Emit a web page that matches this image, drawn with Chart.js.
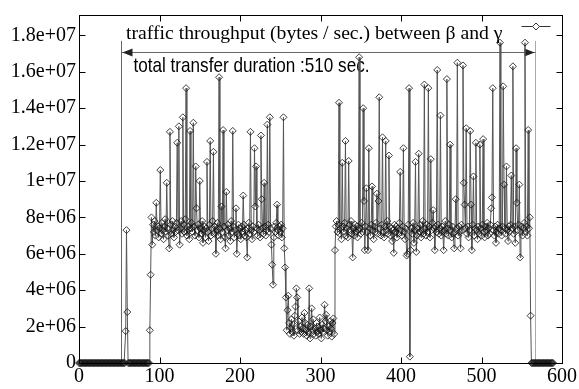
<!DOCTYPE html>
<html>
<head>
<meta charset="utf-8">
<script src="https://cdn.jsdelivr.net/npm/chart.js@4"></script>
<style>
  html, body { margin: 0; padding: 0; background: #fff; }
</style>
</head>
<body>
<canvas id="trafficChart" width="579" height="389"></canvas>
<script>
// throughput samples, one per second (bytes / sec.)
const idleStart = [
    0, 0, 0, 0, 0, 0, 0, 0, 0, 0, 0, 0, 0, 0, 0, 0, 0, 0, 0, 0,
    0, 0, 0, 0, 0, 0, 0, 0, 0, 0, 0, 0, 0, 0, 0, 0, 0, 0, 0, 0,
    0, 0, 0, 0, 0, 0, 0, 0, 0, 0, 0, 0, 0, 0, 0, 0, 0, 0
];
const firstBurst = [1.75e6, 7.3e6, 2.8e6];
const idleGap = [
    0, 0, 0, 0, 0, 0, 0, 0, 0, 0, 0, 0, 0, 0, 0, 0, 0, 0, 0, 0,
    0, 0, 0, 0, 0, 0, 0
];
const phaseOne = [
    1.8e6, 4.85e6, 8.0e6, 6.5e6, 7.6e6, 7.2e6, 7.8e6, 7.0e6, 8.8e6, 7.3e6,
    7.5e6, 6.9e6, 7.4e6, 10.6e6, 7.1e6, 7.7e6, 7.3e6, 6.8e6, 7.5e6, 7.9e6,
    7.2e6, 9.9e6, 7.4e6, 7.0e6, 6.3e6, 12.7e6, 7.6e6, 7.1e6, 7.8e6, 7.3e6,
    6.9e6, 7.5e6, 7.2e6, 7.7e6, 12.1e6, 7.3e6, 13.0e6, 6.5e6, 7.4e6, 7.8e6,
    7.1e6, 13.5e6, 7.6e6, 7.2e6, 7.9e6, 15.1e6, 7.0e6, 7.5e6, 7.3e6, 6.8e6,
    12.75e6, 7.4e6, 7.7e6, 7.2e6, 13.2e6, 7.5e6, 7.0e6, 10.8e6, 8.5e6, 7.3e6,
    7.6e6, 6.9e6, 10.0e6, 7.4e6, 7.1e6, 7.8e6, 6.6e6, 7.3e6, 7.5e6, 6.9e6,
    7.4e6, 11.05e6, 7.2e6, 6.7e6, 7.6e6, 12.2e6, 7.0e6, 7.4e6, 7.8e6, 11.6e6,
    7.1e6, 7.5e6, 6.0e6, 7.3e6, 7.7e6, 7.0e6, 15.7e6, 7.4e6, 6.8e6, 8.6e6,
    7.2e6, 12.8e6, 7.5e6, 6.9e6, 6.3e6, 9.4e6, 7.3e6, 7.6e6, 7.0e6, 7.4e6,
    6.7e6, 7.8e6, 7.2e6, 12.75e6, 7.5e6, 6.9e6, 7.3e6, 8.5e6, 6.0e6, 7.1e6,
    7.6e6, 7.0e6, 7.4e6, 6.8e6, 7.5e6, 7.2e6, 9.2e6, 7.6e6, 7.0e6, 7.3e6,
    6.9e6, 5.8e6, 7.4e6, 7.7e6, 7.1e6, 12.7e6, 7.3e6, 6.8e6, 7.5e6, 7.2e6,
    11.8e6, 8.6e6, 10.8e6, 7.4e6, 7.0e6, 7.6e6, 7.3e6, 6.9e6, 12.5e6, 9.0e6,
    7.4e6, 7.1e6, 9.9e6, 7.5e6, 7.0e6, 7.3e6, 13.1e6, 7.6e6, 7.2e6, 13.5e6,
    7.4e6, 6.5e6, 5.4e6, 4.3e6, 6.9e6, 7.5e6, 7.2e6, 7.7e6, 8.7e6, 7.3e6,
    7.0e6, 7.5e6, 7.2e6, 7.6e6, 6.9e6, 7.4e6, 13.5e6, 6.3e6, 5.25e6, 3.6e6
];
const phaseTwo = [
    1.8e6, 2.9e6, 3.7e6, 2.2e6, 1.6e6, 1.9e6, 2.4e6, 1.7e6, 2.1e6, 1.5e6,
    2.6e6, 3.1e6, 4.1e6, 3.6e6, 1.8e6, 2.3e6, 1.6e6, 2.0e6, 1.7e6, 2.5e6,
    1.9e6, 1.6e6, 2.75e6, 2.2e6, 1.8e6, 1.5e6, 2.1e6, 1.7e6, 4.1e6, 1.35e6,
    2.0e6, 3.0e6, 1.8e6, 2.4e6, 1.6e6, 1.9e6, 1.5e6, 2.2e6, 1.7e6, 2.0e6,
    1.6e6, 2.5e6, 1.8e6, 1.35e6, 2.1e6, 1.7e6, 1.9e6, 3.2e6, 2.3e6, 2.65e6,
    1.8e6, 1.5e6, 2.0e6, 1.7e6, 2.3e6, 1.9e6, 1.45e6, 2.2e6, 2.45e6, 1.6e6
];
const phaseThree = [
    6.2e6, 7.5e6, 7.8e6, 7.2e6, 7.6e6, 14.3e6, 7.1e6, 7.4e6, 6.8e6, 11.0e6,
    7.5e6, 7.2e6, 7.7e6, 12.2e6, 7.0e6, 7.4e6, 6.9e6, 11.1e6, 7.6e6, 7.3e6,
    7.8e6, 7.1e6, 5.8e6, 7.4e6, 7.0e6, 7.6e6, 7.2e6, 7.5e6, 6.9e6, 7.3e6,
    16.8e6, 7.4e6, 7.1e6, 7.7e6, 7.2e6, 14.0e6, 8.9e6, 6.2e6, 7.5e6, 9.6e6,
    7.2e6, 6.2e6, 11.8e6, 7.4e6, 7.0e6, 7.6e6, 9.7e6, 7.3e6, 6.8e6, 7.5e6,
    7.2e6, 7.7e6, 9.3e6, 7.1e6, 8.9e6, 14.6e6, 7.4e6, 7.0e6, 7.6e6, 12.4e6,
    7.2e6, 6.9e6, 7.5e6, 12.2e6, 7.3e6, 7.8e6, 7.1e6, 11.4e6, 7.5e6, 7.0e6,
    7.4e6, 6.7e6, 7.3e6, 6.05e6, 7.6e6, 7.2e6, 7.5e6, 6.9e6, 7.4e6, 7.1e6,
    7.7e6, 10.5e6, 7.3e6, 7.0e6, 7.5e6, 11.8e6, 7.2e6, 6.8e6, 7.4e6, 5.9e6,
    6.0e6, 7.6e6, 15.1e6, 0.35e6, 6.2e6, 7.4e6, 7.1e6, 7.7e6, 6.6e6, 7.3e6,
    11.05e6, 6.1e6, 7.0e6, 7.4e6, 11.5e6, 7.2e6, 7.6e6, 6.9e6, 7.3e6, 7.8e6,
    7.1e6, 15.3e6, 7.4e6, 7.0e6, 7.6e6, 7.2e6, 15.1e6, 7.5e6, 6.9e6, 11.2e6,
    7.3e6, 7.7e6, 8.4e6, 7.4e6, 6.2e6, 7.5e6, 7.2e6, 16.1e6, 7.6e6, 7.1e6,
    7.4e6, 13.6e6, 7.0e6, 7.5e6, 7.2e6, 6.2e6, 7.3e6, 7.8e6, 7.1e6, 15.6e6,
    7.4e6, 7.0e6, 7.6e6, 12.0e6, 7.3e6, 6.9e6, 7.5e6, 7.1e6, 6.3e6, 7.2e6,
    9.0e6, 7.4e6, 16.5e6, 7.0e6, 7.5e6, 7.2e6, 6.3e6, 7.6e6, 7.3e6, 16.35e6,
    9.9e6, 8.7e6, 7.4e6, 12.9e6, 7.1e6, 7.5e6, 6.9e6, 7.3e6, 12.75e6, 8.7e6,
    6.2e6, 7.6e6, 10.25e6, 7.0e6, 7.4e6, 12.1e6, 7.3e6, 6.8e6, 7.5e6, 7.1e6,
    12.0e6, 7.4e6, 7.0e6, 7.6e6, 12.3e6, 7.2e6, 6.9e6, 7.5e6, 7.3e6, 7.7e6,
    7.0e6, 7.4e6, 7.1e6, 7.6e6, 8.5e6, 9.1e6, 15.1e6, 7.3e6, 7.0e6, 7.5e6,
    6.6e6, 7.2e6, 7.6e6, 7.1e6, 7.4e6, 17.6e6, 7.3e6, 7.0e6, 7.5e6, 15.2e6,
    9.8e6, 7.4e6, 7.1e6, 10.8e6, 7.3e6, 6.7e6, 7.5e6, 7.2e6, 7.6e6, 10.3e6,
    7.4e6, 16.3e6, 7.1e6, 7.5e6, 6.6e6, 11.8e6, 8.8e6, 7.3e6, 7.6e6, 9.8e6,
    5.8e6, 7.2e6, 7.5e6, 7.0e6, 7.4e6, 7.7e6, 17.6e6, 7.2e6, 7.5e6, 7.0e6,
    12.8e6, 7.4e6, 8.0e6, 2.6e6
];
const idleEnd = [
    0, 0, 0, 0, 0, 0, 0, 0, 0, 0, 0, 0, 0, 0, 0, 0, 0, 0, 0, 0,
    0, 0, 0, 0, 0, 0, 0, 0
];

const xTicks = [0, 100, 200, 300, 400, 500, 600];
const yTicks = [0, 2e6, 4e6, 6e6, 8e6, 1e7, 1.2e7, 1.4e7, 1.6e7, 1.8e7];

const seriesLabel = 'traffic throughput (bytes / sec.) between \u03b2 and \u03b3';
const durationLabel = 'total transfer duration :510 sec.';
const durationStart = 52;
const durationEnd = 566;
const arrowLevel = 1.71e7;
const markerTop = 1.77e7;

const throughput = [].concat(idleStart, firstBurst, idleGap, phaseOne, phaseTwo, phaseThree, idleEnd);
const points = throughput.map((v, sec) => ({ x: sec, y: v }));

const serif = '"Liberation Serif", "Times New Roman", serif';

// gnuplot style exponent labels: 1.8e+07, 8e+06, 0
function gnuplotExp(value) {
    if (value === 0) return '0';
    const parts = Number(value.toPrecision(6)).toExponential().split('e');
    const exp = Number(parts[1]);
    return parts[0] + 'e' + (exp < 0 ? '-' : '+') + String(Math.abs(exp)).padStart(2, '0');
}

function drawDiamond(ctx, cx, cy, r) {
    ctx.beginPath();
    ctx.moveTo(cx, cy - r);
    ctx.lineTo(cx + r, cy);
    ctx.lineTo(cx, cy + r);
    ctx.lineTo(cx - r, cy);
    ctx.closePath();
    ctx.fillStyle = '#fff';
    ctx.fill();
    ctx.stroke();
}

const gnuplotFrame = {
    id: 'gnuplotFrame',
    beforeDatasetsDraw(chart) {
        const { ctx, scales: { x, y } } = chart;
        const xa = Math.round(x.getPixelForValue(durationStart)) + 0.5;
        const xb = Math.round(x.getPixelForValue(durationEnd)) + 0.5;
        const yBase = y.getPixelForValue(0);
        const yTop = y.getPixelForValue(markerTop);
        const yArrow = Math.round(y.getPixelForValue(arrowLevel)) + 0.5;

        ctx.save();
        ctx.lineWidth = 1;
        ctx.strokeStyle = '#666';
        ctx.beginPath();
        ctx.moveTo(xa, yBase);
        ctx.lineTo(xa, yTop);
        ctx.stroke();
        ctx.strokeStyle = '#aaa';
        ctx.beginPath();
        ctx.moveTo(xb, yBase);
        ctx.lineTo(xb, yTop);
        ctx.stroke();

        // double headed arrow
        ctx.strokeStyle = '#666';
        ctx.beginPath();
        ctx.moveTo(xa, yArrow);
        ctx.lineTo(xb, yArrow);
        ctx.stroke();
        ctx.fillStyle = '#222';
        ctx.beginPath();
        ctx.moveTo(xa + 1, yArrow);
        ctx.lineTo(xa + 11, yArrow - 4);
        ctx.lineTo(xa + 11, yArrow + 4);
        ctx.closePath();
        ctx.fill();
        ctx.beginPath();
        ctx.moveTo(xb - 1, yArrow);
        ctx.lineTo(xb - 11, yArrow - 4);
        ctx.lineTo(xb - 11, yArrow + 4);
        ctx.closePath();
        ctx.fill();

        // narrow sans label, squeezed to the width it has in the original
        ctx.font = '21px "Liberation Sans", Arial, sans-serif';
        ctx.fillStyle = '#000';
        ctx.textAlign = 'left';
        ctx.textBaseline = 'alphabetic';
        const targetWidth = 236;
        const w = ctx.measureText(durationLabel).width;
        const squeeze = Math.min(1, targetWidth / w);
        ctx.translate(xa + 12, yArrow + 19);
        ctx.scale(squeeze, 1);
        ctx.fillText(durationLabel, 0, 0);
        ctx.restore();
    },
    afterDraw(chart) {
        const { ctx, chartArea: area, scales: { x, y } } = chart;
        const left = Math.round(area.left) + 0.5;
        const right = Math.round(area.right) + 0.5;
        const top = Math.round(area.top) + 0.5;
        const bottom = Math.round(area.bottom) + 0.5;
        const tick = 6;

        ctx.save();
        ctx.lineWidth = 1;
        ctx.strokeStyle = '#000';
        ctx.strokeRect(left, top, right - left, bottom - top);
        ctx.beginPath();
        xTicks.forEach(v => {
            const px = Math.round(x.getPixelForValue(v)) + 0.5;
            ctx.moveTo(px, bottom);
            ctx.lineTo(px, bottom - tick);
            ctx.moveTo(px, top);
            ctx.lineTo(px, top + tick);
        });
        yTicks.forEach(v => {
            const py = Math.round(y.getPixelForValue(v)) + 0.5;
            ctx.moveTo(left, py);
            ctx.lineTo(left + tick, py);
            ctx.moveTo(right, py);
            ctx.lineTo(right - tick, py);
        });
        ctx.stroke();

        // key, gnuplot style: text then sample on the right
        const sampleY = top + 11;
        const sampleX0 = right - 41;
        const sampleX1 = right - 12;
        ctx.font = '19.7px ' + serif;
        ctx.fillStyle = '#000';
        ctx.textAlign = 'right';
        ctx.textBaseline = 'alphabetic';
        ctx.fillText(seriesLabel, sampleX0 - 19, top + 23);
        ctx.strokeStyle = '#333';
        ctx.beginPath();
        ctx.moveTo(sampleX0, sampleY);
        ctx.lineTo(sampleX1, sampleY);
        ctx.stroke();
        drawDiamond(ctx, (sampleX0 + sampleX1) / 2, sampleY, 3.5);
        ctx.restore();
    }
};

const ctx = document.getElementById('trafficChart').getContext('2d');
new Chart(ctx, {
    type: 'line',
    data: {
        datasets: [{
            label: seriesLabel,
            data: points,
            borderColor: '#555',
            borderWidth: 1,
            pointStyle: 'rectRot',
            pointRadius: 3.5,
            pointBackgroundColor: 'rgba(255,255,255,0)',
            pointBorderColor: '#111',
            pointBorderWidth: 0.8,
            tension: 0,
            clip: 6
        }]
    },
    plugins: [gnuplotFrame],
    options: {
        responsive: false,
        animation: false,
        layout: { padding: { top: 6, right: 14, left: 0, bottom: 0 } },
        plugins: {
            legend: { display: false },
            tooltip: { enabled: false }
        },
        scales: {
            x: {
                type: 'linear',
                min: 0,
                max: 600,
                afterFit: scale => { scale.height = 26; },
                afterBuildTicks: scale => { scale.ticks = xTicks.map(v => ({ value: v })); },
                grid: { display: false, drawTicks: false },
                border: { display: false },
                ticks: {
                    font: { family: serif, size: 20 },
                    color: '#000',
                    padding: 2,
                    maxRotation: 0
                }
            },
            y: {
                min: 0,
                max: 1.912e7,
                afterFit: scale => { scale.width = 79; },
                afterBuildTicks: scale => { scale.ticks = yTicks.map(v => ({ value: v })); },
                grid: { display: false, drawTicks: false },
                border: { display: false },
                ticks: {
                    font: { family: serif, size: 20 },
                    color: '#000',
                    padding: 3,
                    callback: v => gnuplotExp(v)
                }
            }
        }
    }
});
</script>
</body>
</html>
